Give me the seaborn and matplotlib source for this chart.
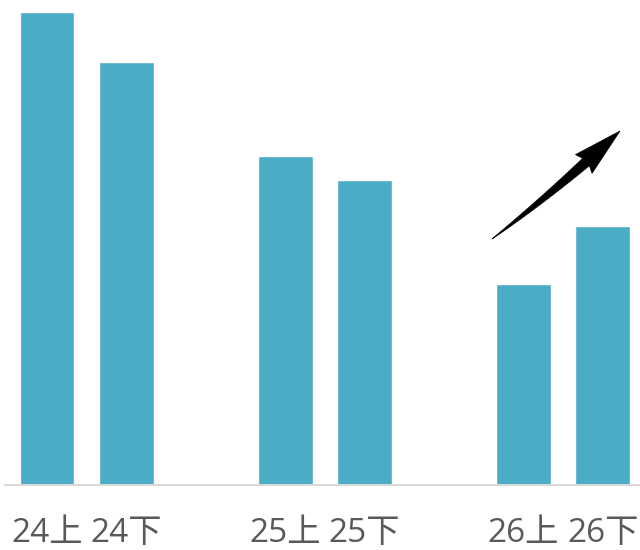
import matplotlib
matplotlib.use("Agg")
import matplotlib.pyplot as plt
from matplotlib.patches import Polygon
import numpy as np
import seaborn as sns
import pandas as pd

categories = ["24上", "24下", "25上", "25下", "26上", "26下"]
slots = [0, 1, 3, 4, 6, 7]
values = [473, 423, 329, 305, 201, 259]

sns.set_theme(style="white")
plt.rcParams["font.family"] = ["Open Sans", "Noto Sans CJK SC", "DejaVu Sans"]

df = pd.DataFrame({"slot": slots, "value": values, "cat": categories})

W, H = 640, 550
fig = plt.figure(figsize=(6.4, 5.5), dpi=100)
ax = fig.add_axes([5 / W, 65 / H, 635 / W, 485 / H])
sns.barplot(data=df, x="slot", y="value", native_scale=True, width=0.69,
            color="#4BACC6", saturation=1, ax=ax, errorbar=None)

ax.set_xlim(-0.53, 7.47)
ax.set_ylim(0, 485)
ax.set_xticks(slots)
ax.set_xticklabels(categories, fontsize=24, color="#595959")
ax.tick_params(axis="x", length=0, pad=23)
ax.set_yticks([])
ax.set_xlabel("")
ax.set_ylabel("")
for s in ["top", "left", "right"]:
    ax.spines[s].set_visible(False)
ax.spines["bottom"].set_color("#D9D9D9")
ax.spines["bottom"].set_linewidth(1.5)

# tapered arrow (decoration), geometry in figure pixels (y down)
P0 = np.array([492.0, 239.0])
P1 = np.array([541.0, 202.0])
P2 = np.array([586.0, 162.0])
t = np.linspace(0, 1, 60)[:, None]
pts = (1 - t) ** 2 * P0 + 2 * (1 - t) * t * P1 + t ** 2 * P2
d = 2 * (1 - t) * (P1 - P0) + 2 * t * (P2 - P1)
d = d / np.linalg.norm(d, axis=1, keepdims=True)
nrm = np.column_stack([-d[:, 1], d[:, 0]])
w = 5.0 * t[:, 0] ** 0.85
left = pts + nrm * w[:, None]
right = pts - nrm * w[:, None]
tip = np.array([620.0, 131.0])
n_end = nrm[-1]
barb_1 = P2 + n_end * 12.5 - d[-1] * 3
barb_2 = P2 - n_end * 12.5 - d[-1] * 3
poly = np.vstack([left, [barb_1, tip, barb_2], right[::-1]])
poly_fig = np.column_stack([poly[:, 0] / W, 1 - poly[:, 1] / H])
fig.add_artist(Polygon(poly_fig, closed=True, transform=fig.transFigure,
                       facecolor="black", edgecolor="black", linewidth=0.5))

fig.savefig("out.png", dpi=100)
